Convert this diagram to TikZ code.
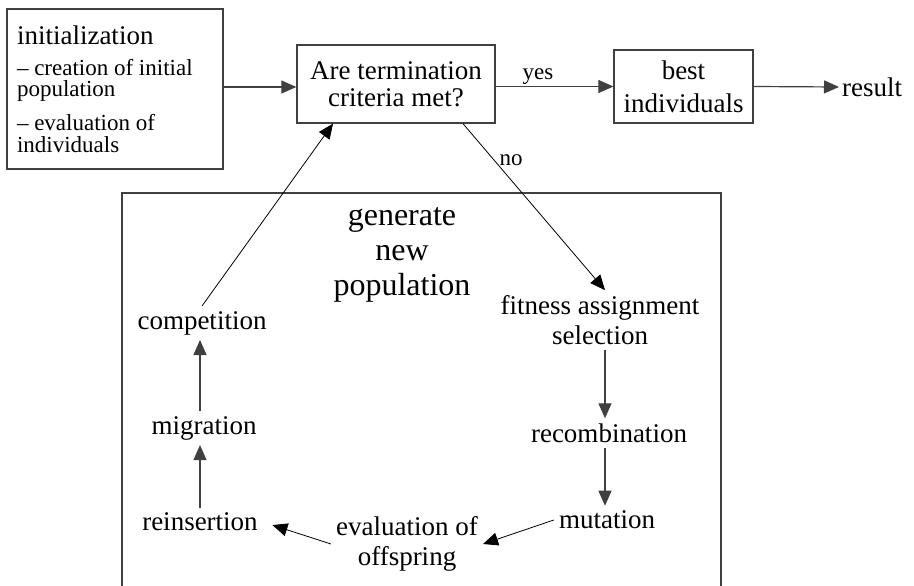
\documentclass[tikz,border=0pt]{standalone}
\usepackage{fontspec}
\setmainfont{Liberation Serif}
\usetikzlibrary{arrows.meta}

\begin{document}
\begin{tikzpicture}[x=1pt, y=-1pt,
	box/.style={draw=black!75, line width=1.3pt, inner sep=0pt, align=center},
	lbl/.style={align=center, inner sep=5pt, font=\fontsize{27}{30}\selectfont},
	small/.style={inner sep=0pt, font=\fontsize{23}{25}\selectfont},
	arr/.style={-{Triangle[length=15pt,width=13pt]}, line width=1.2pt, draw=black!75},
	thin/.style={-{Triangle[length=15pt,width=13pt]}, line width=0.8pt}]
	\useasboundingbox (0,0) rectangle (914,586);
	% the frame round the loop, cut off at the bottom
	\draw[draw=black!75, line width=1.3pt] (122,586) -- (122,193) -- (721,193) -- (721,586);
	\node[box, minimum width=216pt, minimum height=160pt] (init) at (115,89) {\begin{minipage}{196pt}\raggedright
		\fontsize{27}{30}\selectfont initialization\par
		\vspace{9.5pt}\fontsize{23}{21.5}\selectfont
		\hangindent=8pt\hangafter=1 -- creation of initial\\population\par
		\vspace{12.5pt}\hangindent=8pt\hangafter=1 -- evaluation of\\individuals\par
		\end{minipage}};
	\node[box, minimum width=198pt, minimum height=78pt, font=\fontsize{27}{27}\selectfont] (q) at (396,84) {Are termination\\criteria met?};
	\node[box, minimum width=139pt, minimum height=73pt, font=\fontsize{27}{33}\selectfont] (best) at (683.5,86.5) {best\\individuals};
	\node[lbl, anchor=west, inner sep=3pt] (res) at (839,87) {result};
	\node[lbl, font=\fontsize{32}{35}\selectfont] (gen) at (402,255) {generate\\new\\population};
	\node[lbl] (comp) at (202,323) {competition};
	\node[lbl] (mig) at (204,428) {migration};
	\node[lbl] (reins) at (200,522) {reinsertion};
	\node[lbl] (evo) at (407,544) {evaluation of\\offspring};
	\node[lbl] (fit) at (600,320) {fitness assignment\\selection};
	\node[lbl] (rec) at (609,433) {recombination};
	\node[lbl] (mut) at (607,520) {mutation};

	\draw[arr] ([yshift=-3pt]q.west -| init.east) -- ([yshift=-3pt]q.west);
	\draw[arr] (q.east |- best.west) -- (best.west) node[small, pos=0.36, above=1pt] (yes) {yes};
	\draw[arr] (best.east) -- (res.west);
	\draw[thin] ([xshift=67pt]q.south) -- ([xshift=5pt]fit.north) node[small, pos=0.22, right=5pt] (no) {no};
	\draw[arr] ([xshift=5pt]fit.south) -- ([xshift=5pt]fit.south |- rec.north);
	\draw[arr] ([xshift=5pt]fit.south |- rec.south) -- ([xshift=5pt]fit.south |- mut.north);
	\draw[thin] (mut.west) -- (evo.east);
	\draw[thin, shorten >=10pt] (evo.west) -- (reins.east);
	\draw[arr] (reins.north) -- (reins.north |- mig.south);
	\draw[arr] (reins.north |- mig.north) -- (reins.north |- comp.south);
	\draw[thin] (comp.north) -- ([xshift=-63pt]q.south);
\end{tikzpicture}
\end{document}
